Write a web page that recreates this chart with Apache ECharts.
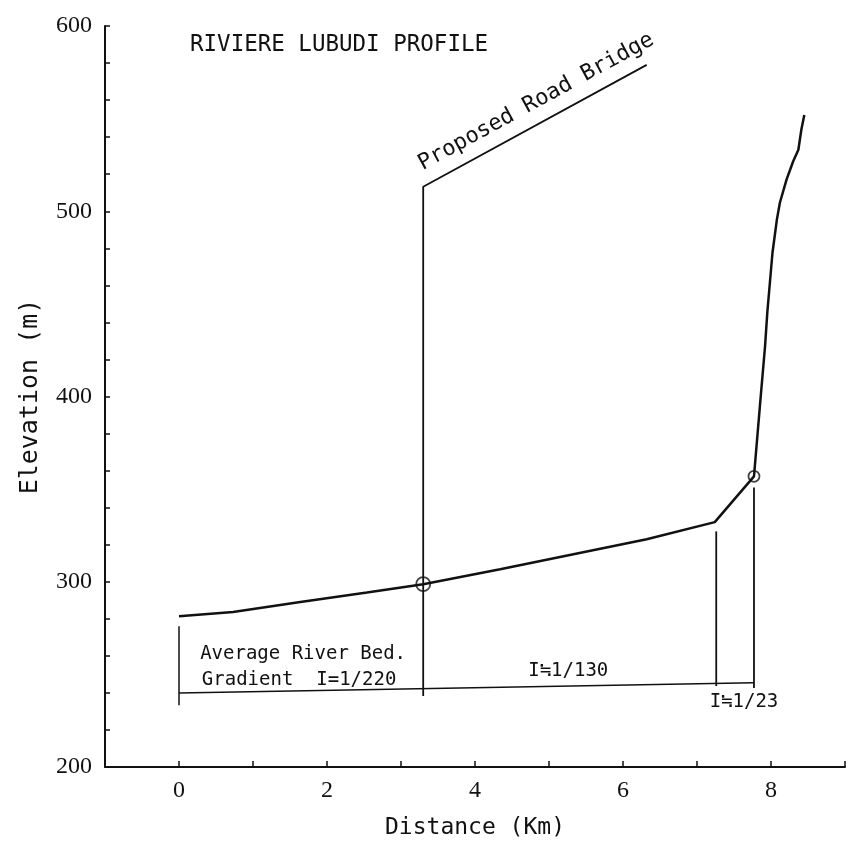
<!DOCTYPE html>
<html>
<head>
<meta charset="utf-8">
<script src="https://cdn.jsdelivr.net/npm/echarts@6/dist/echarts.min.js"></script>
<style>html,body{margin:0;padding:0;background:#fff}#c{width:851px;height:845px}</style>
</head>
<body>
<div id="c"></div>
<script>
// ---- data (km, m) ----
const riverKm   = [0, 0.73, 1.64, 2.54, 3.30, 4.34, 6.32, 7.24, 7.77, 7.86, 7.92, 7.95, 8.02, 8.08, 8.12, 8.21, 8.30, 8.37, 8.41, 8.45];
const riverElev = [281.4, 283.7, 289.1, 294.2, 298.7, 306.7, 322.9, 332.2, 356.9, 399.5, 427.3, 445.3, 477.6, 495.6, 504.6, 517.1, 527.0, 533.2, 544.0, 552.0];
const bridgeKm   = [3.30, 3.30, 6.32];
const bridgeElev = [238.3, 513.2, 579.0];
const baseKm   = [0, 7.77];
const baseElev = [240.0, 245.5];
const leftMarkKm = [0, 0];       const leftMarkElev = [276.0, 233.4];
const bendMarkKm = [7.26, 7.26]; const bendMarkElev = [327.2, 243.7];
const rightMarkKm = [7.77, 7.77]; const rightMarkElev = [350.9, 242.6];
const circleKm = [3.30, 7.77];
const circleElev = [298.7, 356.9];
const circleSize = [14, 11];
const xTicks = [0, 2, 4, 6, 8];
const yTicks = [200, 300, 400, 500, 600];
const titleText = 'RIVIERE LUBUDI PROFILE';
const bridgeText = 'Proposed Road Bridge';
const avgText1 = 'Average River Bed.';
const avgText2 = 'Gradient  I=1/220';
const grad2Text = 'I≒1/130';
const grad3Text = 'I≒1/23';

const pairs = (xs, ys) => xs.map((x, i) => [x, ys[i]]);
const MONO = '"DejaVu Sans Mono", "Liberation Mono", monospace';
const SERIF = '"Liberation Serif", "DejaVu Serif", serif';
const INK = '#111';

const chart = echarts.init(document.getElementById('c'), null, {renderer: 'canvas'});
const lineSeries = (d, w) => ({
  type: 'line', data: d, symbol: 'none', silent: true, animation: false,
  lineStyle: {color: INK, width: w}
});

chart.setOption({
  backgroundColor: '#fff',
  animation: false,
  grid: {left: 105, right: 6, top: 26, bottom: 77},
  xAxis: {
    type: 'value', min: -1, max: 9, interval: 1,
    name: 'Distance (Km)', nameLocation: 'middle', nameGap: 50,
    nameTextStyle: {fontFamily: MONO, fontSize: 23, color: INK},
    axisLine: {onZero: false, lineStyle: {color: INK, width: 2}},
    axisTick: {inside: true, length: 6, lineStyle: {color: INK, width: 1.5}},
    splitLine: {show: false},
    axisLabel: {
      margin: 12, fontFamily: SERIF, fontSize: 24, color: INK,
      formatter: v => xTicks.indexOf(v) >= 0 ? String(v) : ''
    }
  },
  yAxis: {
    type: 'value', min: 200, max: 600, interval: 20,
    name: 'Elevation (m)', nameLocation: 'middle', nameGap: 62, nameRotate: 90,
    nameTextStyle: {fontFamily: MONO, fontSize: 25, color: INK},
    axisLine: {onZero: false, lineStyle: {color: INK, width: 2}},
    axisTick: {inside: true, length: 5, lineStyle: {color: INK, width: 1.5}},
    splitLine: {show: false},
    axisLabel: {
      margin: 13, fontFamily: SERIF, fontSize: 24, color: INK,
      formatter: v => yTicks.indexOf(v) >= 0 ? String(v) : ''
    }
  },
  series: [
    lineSeries(pairs(riverKm, riverElev), 2.5),
    lineSeries(pairs(bridgeKm, bridgeElev), 1.8),
    lineSeries(pairs(baseKm, baseElev), 1.5),
    lineSeries(pairs(leftMarkKm, leftMarkElev), 1.5),
    lineSeries(pairs(bendMarkKm, bendMarkElev), 1.8),
    lineSeries(pairs(rightMarkKm, rightMarkElev), 1.8),
    {
      type: 'scatter', silent: true, animation: false,
      data: circleKm.map((x, i) => ({value: [x, circleElev[i]], symbolSize: circleSize[i]})),
      symbol: 'circle',
      itemStyle: {color: 'rgba(0,0,0,0)', borderColor: INK, borderWidth: 1.8}
    }
  ]
});

// annotations anchored to data coordinates
const P = (x, y) => chart.convertToPixel({gridIndex: 0}, [x, y]);
const b0 = P(bridgeKm[1], bridgeElev[1]);
const b1 = P(bridgeKm[2], bridgeElev[2]);
const ang = Math.atan2(b0[1] - b1[1], b1[0] - b0[0]);
const a0 = P(0, baseElev[0]);
const bridgeBase = P(bridgeKm[0], baseElev[0]);
const g2 = P(5.26, baseElev[0]);
const g3 = P(7.77, baseElev[0]);

chart.setOption({
  graphic: [
    {type: 'text', left: 190, top: 34, silent: true,
     style: {text: titleText, font: '22.5px ' + MONO, fill: INK}},
    {type: 'text', x: b0[0] + 2, y: b0[1] - 12, rotation: ang, silent: true,
     style: {text: bridgeText, font: '22px ' + MONO, fill: INK, textAlign: 'left', textVerticalAlign: 'bottom'}},
    {type: 'text', x: (a0[0] + bridgeBase[0]) / 2 + 2, y: a0[1] - 39, silent: true,
     style: {text: avgText1, font: '19px ' + MONO, fill: INK, textAlign: 'center', textVerticalAlign: 'middle'}},
    {type: 'text', x: (a0[0] + bridgeBase[0]) / 2 - 2, y: a0[1] - 13, silent: true,
     style: {text: avgText2, font: '19px ' + MONO, fill: INK, textAlign: 'center', textVerticalAlign: 'middle'}},
    {type: 'text', x: g2[0], y: g2[1] - 22, silent: true,
     style: {text: grad2Text, font: '19px ' + MONO, fill: INK, textAlign: 'center', textVerticalAlign: 'middle'}},
    {type: 'text', x: g3[0] - 10, y: g3[1] + 9, silent: true,
     style: {text: grad3Text, font: '19px ' + MONO, fill: INK, textAlign: 'center', textVerticalAlign: 'middle'}}
  ]
});
</script>
</body>
</html>
